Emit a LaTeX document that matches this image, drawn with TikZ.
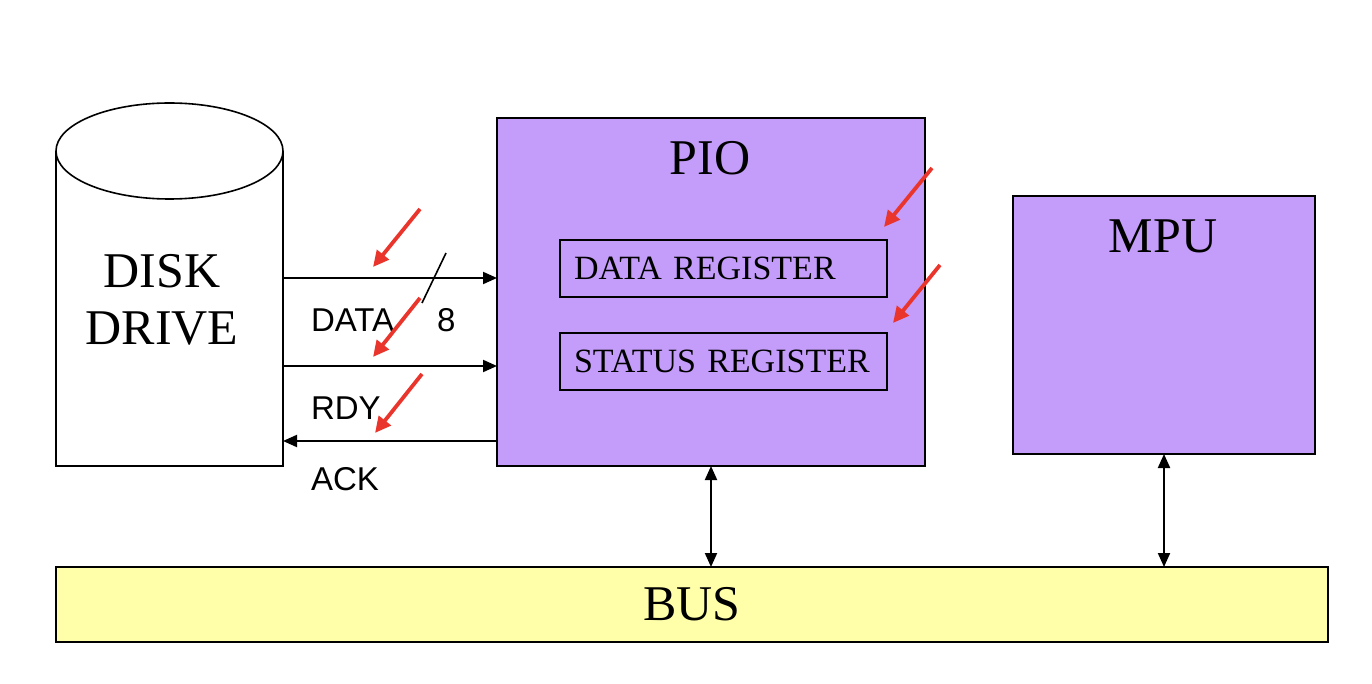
\documentclass[tikz,border=0pt]{standalone}
\usepackage{fontspec}
\setmainfont{Liberation Serif}
\newfontfamily\labelfont{Liberation Sans}
\usetikzlibrary{arrows.meta}

\definecolor{piopurple}{RGB}{196,156,249}
\definecolor{busyellow}{RGB}{255,255,170}
\definecolor{markred}{RGB}{233,53,43}

\begin{document}
\begin{tikzpicture}[
                        x=0.5pt, y=-0.5pt,
                        line width=0.8pt,
                        >={Triangle[length=7pt,width=6pt]},
                        every node/.style={inner sep=0pt, outer sep=0pt},
                        big/.style={font=\fontsize{25}{28.5}\selectfont},
                        unit/.style={draw, fill=piopurple, anchor=north west},
                        register/.style={
                                draw, anchor=north west,
                                minimum width=163.5pt, minimum height=28.5pt,
                                text width=149.5pt, align=left, inner xsep=7pt,
                                font=\fontsize{17}{20}\selectfont,
                            },
                        signal/.style={font=\labelfont\fontsize{16.5}{20}\selectfont, anchor=base west},
                        wire/.style={line width=1pt, ->},
                        pointer/.style={markred, line width=1.9pt, -{Triangle[length=8pt,width=7.5pt]}},
                    ]

                    \useasboundingbox (0,0) rectangle (1372,684);

                    % disk drive
                    \draw[fill=white] (56,151) -- (56,466) -- (283,466) -- (283,151);
                    \draw[fill=white] (169.5,151) ellipse [x radius=113.5, y radius=48];
                    \node[anchor=north west, minimum width=113.5pt, minimum height=133.5pt] (disk) at (56,199) {};
                    \node[big, align=center] (disklabel) at (162,300) {DISK\\DRIVE};

                    % PIO and MPU
                    \node[unit, minimum width=214pt, minimum height=174pt] (pio) at (497,118) {};
                    \node[big, anchor=base] (piolabel) at (710,175) {PIO};
                    \node[register] (datareg) at (560,240) {DATA REGISTER};
                    \node[register] (statusreg) at (560,333) {STATUS REGISTER};

                    \node[unit, minimum width=151pt, minimum height=129pt] (mpu) at (1013,196) {};
                    \node[big, anchor=base] (mpulabel) at (1163,253) {MPU};

                    \node[draw, fill=busyellow, anchor=north west, minimum width=636pt, minimum height=37.5pt, big] (bus) at (56,567) {BUS};

                    % handshake lines
                    \coordinate (datay) at (0,278);
                    \coordinate (rdyy) at (0,366);
                    \coordinate (acky) at (0,441);

                    \draw[wire] (disk.east |- datay) -- (pio.west |- datay);
                    \draw[wire] (disk.east |- rdyy) -- (pio.west |- rdyy);
                    \draw[wire] (pio.west |- acky) -- (disk.east |- acky);
                    \draw (422,303) -- (446,253);

                    \node[signal] (datalabel) at (311,332) {DATA};
                    \node[signal] (widthlabel) at (437,332) {8};
                    \node[signal] (rdylabel) at (311,420) {RDY};
                    \node[signal] (acklabel) at (311,490) {ACK};

                    % bus connections
                    \draw[wire, <->] (pio.south) -- (pio.south |- bus.north);
                    \draw[wire, <->] (mpu.south) -- (mpu.south |- bus.north);

                    \foreach \sx/\sy/\ex/\ey in {420/209/373/267, 420/298/373/357, 422/374/375/433, 932/168/884/227, 940/265/893/323}{
                            \draw[pointer] (\sx,\sy) -- (\ex,\ey);
                        }
                \end{tikzpicture}
\end{document}
